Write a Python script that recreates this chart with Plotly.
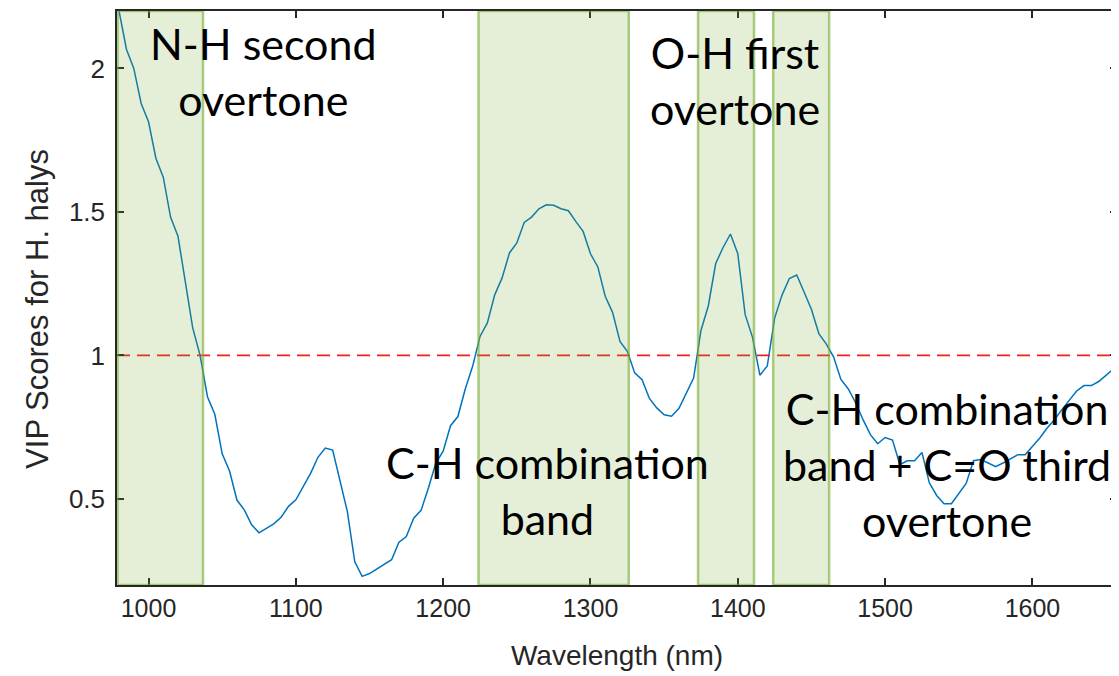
import plotly.graph_objects as go

# ---- data ----
wavelength = list(range(980, 1665, 5))
vip = [
    2.20, 2.067, 2.00, 1.878, 1.814, 1.687, 1.621, 1.481, 1.415, 1.248,   # 980-1025
    1.096, 1.00, 0.856, 0.795, 0.657, 0.597, 0.496, 0.462, 0.410, 0.382,  # 1030-1075
    0.399, 0.413, 0.436, 0.474, 0.497, 0.545, 0.589, 0.645, 0.677, 0.670, # 1080-1125
    0.564, 0.455, 0.281, 0.230, 0.240, 0.257, 0.272, 0.288, 0.349, 0.369, # 1130-1175
    0.433, 0.460, 0.538, 0.625, 0.666, 0.755, 0.787, 0.883, 0.962, 1.066, # 1180-1225
    1.113, 1.211, 1.270, 1.357, 1.392, 1.463, 1.482, 1.511, 1.525, 1.523, # 1230-1275
    1.511, 1.504, 1.467, 1.432, 1.354, 1.308, 1.206, 1.150, 1.049, 1.014, # 1280-1325
    0.939, 0.915, 0.850, 0.817, 0.793, 0.788, 0.815, 0.867, 0.921, 1.087, # 1330-1375
    1.173, 1.320, 1.376, 1.423, 1.354, 1.142, 1.063, 0.931, 0.963, 1.130, # 1380-1425
    1.210, 1.268, 1.280, 1.221, 1.160, 1.076, 1.040, 0.995, 0.916, 0.883, # 1430-1475
    0.835, 0.776, 0.724, 0.692, 0.714, 0.705, 0.619, 0.633, 0.633, 0.662, # 1480-1525
    0.556, 0.512, 0.483, 0.483, 0.517, 0.554, 0.633, 0.637, 0.625, 0.612, # 1530-1575
    0.625, 0.639, 0.654, 0.654, 0.683, 0.712, 0.747, 0.776, 0.811, 0.842, # 1580-1625
    0.876, 0.895, 0.895, 0.909, 0.930, 0.953, 0.998,                      # 1630-1660
]
threshold = 1.0

band_starts = [979, 1224, 1373, 1424]
band_ends = [1037, 1326, 1411, 1462]

label_texts = [
    "N-H second<br>overtone",
    "C-H combination<br>band",
    "O-H first<br>overtone",
    "C-H combination<br>band + C=O third<br>overtone",
]
label_x = [1078, 1270.5, 1398, 1542]
label_y = [1.988, 0.53, 1.958, 0.62]

x_range = [978.6, 1657.4]
y_range = [0.2, 2.2]
y_ticks = [0.5, 1, 1.5, 2]
y_ticktext = ["0.5", "1", "1.5", "2"]
x_ticks = [1000, 1100, 1200, 1300, 1400, 1500, 1600]

x_title = "Wavelength (nm)"
y_title = "VIP Scores for H. halys"

axis_color = "#262626"

fig = go.Figure()
fig.add_trace(go.Scatter(
    x=wavelength, y=vip, mode="lines",
    line=dict(color="#0072BD", width=1.5),
    showlegend=False, hoverinfo="skip",
))
fig.add_trace(go.Scatter(
    x=x_range, y=[threshold, threshold], mode="lines",
    line=dict(color="rgb(240,30,30)", width=1.8, dash="13px,7px"),
    showlegend=False, hoverinfo="skip",
))

for x0, x1 in zip(band_starts, band_ends):
    fig.add_shape(
        type="rect", xref="x", yref="y",
        x0=x0, x1=x1, y0=y_range[0], y1=y_range[1],
        fillcolor="rgba(119,172,48,0.19)",
        line=dict(color="rgba(119,172,48,0.6)", width=2.5),
        layer="above",
    )

for t, xx, yy in zip(label_texts, label_x, label_y):
    fig.add_annotation(
        x=xx, y=yy, xref="x", yref="y", text=t, showarrow=False,
        font=dict(family="Lato", size=43, color="#000000"),
        align="center", xanchor="center", yanchor="middle",
    )

# y-axis title (placed as rotated text to match the reference offset)
fig.add_annotation(
    x=-0.079, y=0.481, xref="paper", yref="paper", text=y_title,
    showarrow=False, textangle=-90,
    font=dict(family="Liberation Sans, Arial", size=31, color=axis_color),
    xanchor="center", yanchor="middle",
)

fig.update_layout(
    width=1111, height=668,
    margin=dict(l=109, r=0, t=3, b=91),
    paper_bgcolor="white", plot_bgcolor="white",
    font=dict(family="Liberation Sans, Arial", color=axis_color),
)
fig.update_xaxes(
    range=x_range, tickvals=x_ticks,
    showline=True, linecolor=axis_color, linewidth=1.5, mirror="ticks",
    ticks="inside", ticklen=7, tickwidth=1.5, tickcolor=axis_color,
    showgrid=False, zeroline=False,
    tickfont=dict(size=25, color=axis_color),
    title=dict(text=x_title, font=dict(size=28, color=axis_color), standoff=25),
)
fig.update_yaxes(
    range=y_range, tickvals=y_ticks, ticktext=y_ticktext,
    showline=True, linecolor=axis_color, linewidth=1.5, mirror="ticks",
    ticks="inside", ticklen=7, tickwidth=1.5, tickcolor=axis_color,
    showgrid=False, zeroline=False, ticklabelstandoff=5,
    tickfont=dict(size=26, color=axis_color),
)

fig.write_html("out.html")
